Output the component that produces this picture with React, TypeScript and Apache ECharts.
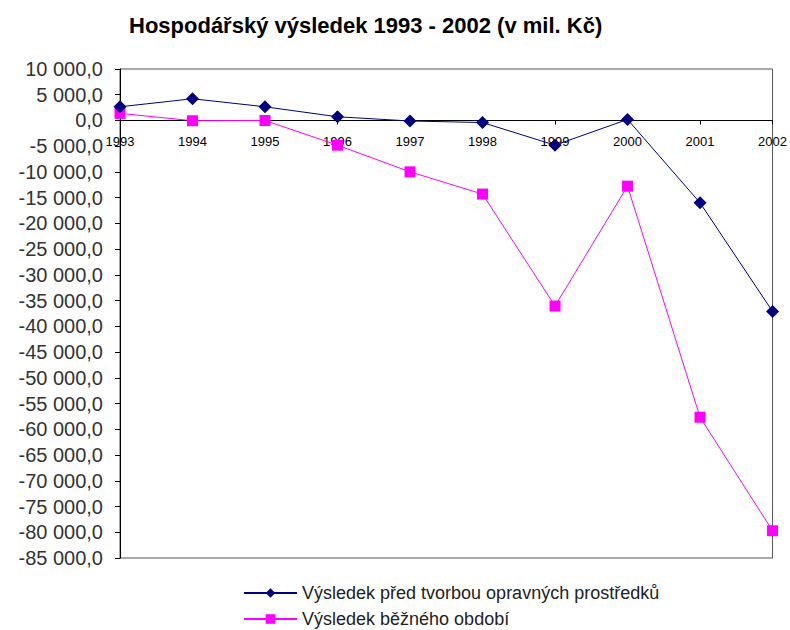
import React, { useEffect, useRef } from "react";
import * as echarts from "echarts";

const years = ["1993", "1994", "1995", "1996", "1997", "1998", "1999", "2000", "2001", "2002"];
const vysledekPred = [2660, 4220, 2660, 720, -100, -400, -4800, 200, -16000, -37100];
const vysledekBezny = [1380, -50, 0, -4800, -9980, -14300, -36050, -12760, -57650, -79700];
const seriesNames = ["Výsledek před tvorbou opravných prostředků", "Výsledek běžného období"];
const titleText = "Hospodářský výsledek 1993 - 2002 (v mil. Kč)";
const yMin = -85000;
const yMax = 10000;

function fmt(v: number): string {
  const neg = v < 0;
  const a = Math.abs(v);
  const s = String(Math.round(a)).replace(/\B(?=(\d{3})+(?!\d))/g, " ");
  return (neg ? "-" : "") + s + ",0";
}

export default function App() {
  const ref = useRef<HTMLDivElement>(null);
  useEffect(() => {
    if (!ref.current) return;
    const chart = echarts.init(ref.current, undefined, { renderer: "svg" });
    const gridTop = 69;
    const gridBottomY = 558;
    const gridH = gridBottomY - gridTop;
    const zeroOffset = -(gridH * (0 - yMin)) / (yMax - yMin);
    const legendText = { fontFamily: "Liberation Sans", fontSize: 18, color: "#222" };
    chart.setOption({
      animation: false,
      backgroundColor: "#ffffff",
      title: {
        text: titleText,
        left: 124,
        top: 9,
        textStyle: { fontFamily: "Liberation Sans", fontWeight: "bold", fontSize: 22, color: "#000" },
      },
      grid: { left: 120, top: gridTop, right: 17, bottom: 630 - gridBottomY, show: true, borderColor: "#555", borderWidth: 1, backgroundColor: "transparent" },
      legend: [
        {
          orient: "vertical",
          left: 238,
          top: 579,
          itemWidth: 53,
          itemHeight: 12,
          textStyle: legendText,
          data: [seriesNames[0]],
        },
        {
          orient: "vertical",
          left: 238,
          top: 605,
          itemWidth: 53,
          itemHeight: 12,
          textStyle: legendText,
          data: [seriesNames[1]],
        },
      ],
      xAxis: {
        type: "category",
        data: years,
        boundaryGap: false,
        position: "bottom",
        offset: zeroOffset,
        axisLine: { onZero: false, lineStyle: { color: "#000", width: 1 } },
        axisTick: { show: true, length: 4, lineStyle: { color: "#000" } },
        axisLabel: { fontFamily: "Liberation Sans", fontSize: 13, color: "#000", margin: 15, letterSpacing: -0.5 },
        splitLine: { show: false },
      },
      yAxis: {
        type: "value",
        min: yMin,
        max: yMax,
        interval: 5000,
        axisLine: { show: true, lineStyle: { color: "#000", width: 1 } },
        axisTick: { show: true, length: 5, lineStyle: { color: "#000" } },
        axisLabel: { fontFamily: "Liberation Sans", fontSize: 20, color: "#333", margin: 17, formatter: (v: number) => fmt(v) },
        splitLine: { show: false },
      },
      series: [
        {
          name: seriesNames[0],
          type: "line",
          data: vysledekPred,
          symbol: "diamond",
          symbolSize: 13,
          lineStyle: { color: "#000080", width: 1 },
          itemStyle: { color: "#000080" },
          z: 3,
        },
        {
          name: seriesNames[1],
          type: "line",
          data: vysledekBezny,
          symbol: "rect",
          symbolSize: 11,
          lineStyle: { color: "#ff00ff", width: 1 },
          itemStyle: { color: "#ff00ff" },
          z: 2,
        },
      ],
    });
    return () => chart.dispose();
  }, []);
  return <div ref={ref} style={{ position: "fixed", left: 0, top: 0, width: 790, height: 630 }} />;
}
